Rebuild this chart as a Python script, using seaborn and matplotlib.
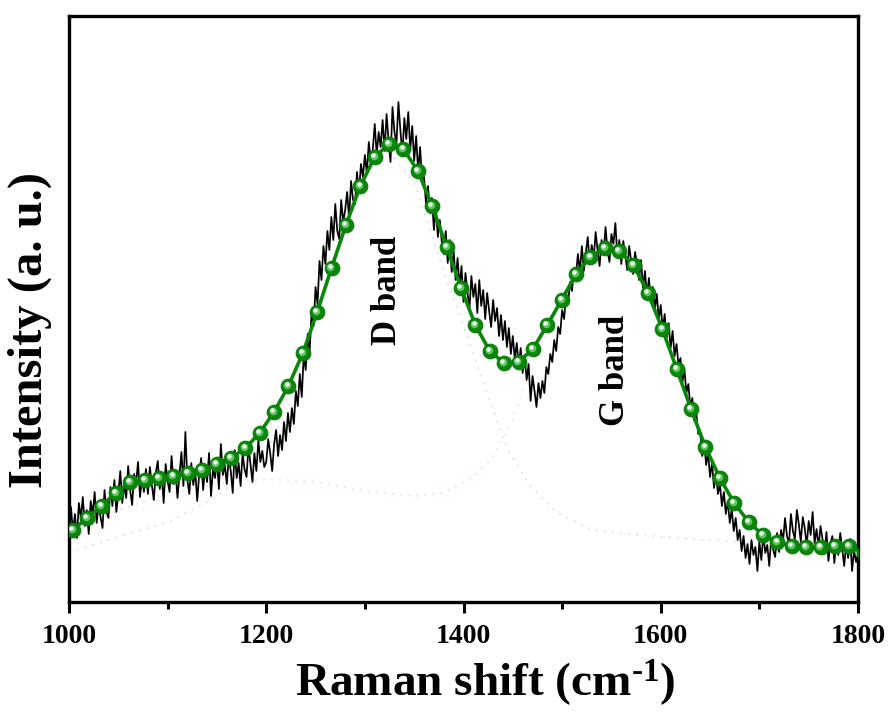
import numpy as np
import matplotlib
matplotlib.use("Agg")
import matplotlib.pyplot as plt
import matplotlib.transforms as mtransforms
import seaborn as sns

# ---------------- data ----------------
# measured Raman spectrum, 2 cm-1 steps from 1000 cm-1 (arbitrary units)
spectrum = [
    72, 95, 70, 88, 64, 99, 84, 105, 76, 92, 68, 101, 87, 110, 79, 96, 85, 74, 112, 90,
    84, 115, 96, 122, 90, 108, 131, 99, 117, 104, 136, 112, 97, 128, 119, 140, 105, 124, 110, 133,
    108, 135, 117, 102, 129, 141, 113, 126, 99, 138, 121, 110, 146, 118, 131, 104, 127, 150, 116, 170,
    122, 108, 139, 117, 131, 101, 128, 144, 112, 135, 120, 149, 106, 133, 124, 141, 113, 158, 127, 137,
    118, 145, 131, 109, 152, 124, 139, 116, 148, 133, 125, 156, 138, 120, 149, 131, 162, 140, 151, 135,
    140, 163, 149, 131, 158, 172, 146, 167, 152, 180, 161, 189, 170, 194, 178, 211, 196, 228, 205, 247,
    232, 268, 251, 290, 276, 315, 298, 341, 322, 356, 338, 371, 352, 385, 362, 398, 371, 363, 402, 380,
    392, 410, 384, 421, 402, 398, 430, 409, 438, 425, 447, 429, 460, 441, 452, 478, 447, 470, 455, 482,
    451, 488, 462, 440, 495, 470, 458, 500, 472, 447, 484, 463, 490, 452, 476, 441, 466, 430, 455, 422,
    425, 398, 416, 389, 404, 372, 395, 365, 382, 360, 348, 371, 339, 362, 330, 351, 322, 344, 315, 336,
    300, 329, 311, 292, 326, 305, 318, 289, 322, 296, 312, 283, 309, 291, 275, 302, 281, 294, 266, 287,
    262, 281, 255, 274, 248, 266, 243, 259, 236, 254, 229, 247, 222, 238, 201, 226, 211, 195, 219, 204,
    221, 209, 235, 228, 248, 240, 262, 251, 275, 268, 292, 283, 306, 298, 320, 311, 334, 327, 348, 330,
    356, 331, 349, 365, 338, 357, 344, 370, 351, 336, 362, 347, 375, 352, 340, 368, 358, 379, 345, 362,
    338, 361, 347, 332, 356, 341, 328, 350, 336, 322, 342, 314, 331, 306, 324, 299, 315, 293, 308, 282,
    297, 272, 288, 264, 279, 254, 271, 246, 258, 236, 244, 220, 233, 209, 218, 195, 204, 181, 189, 168,
    170, 146, 161, 137, 149, 125, 139, 114, 130, 108, 118, 96, 110, 88, 101, 79, 93, 71, 84, 62,
    72, 51, 66, 44, 58, 38, 62, 47, 55, 31, 60, 42, 68, 49, 57, 36, 64, 52, 45, 69,
    50, 72, 61, 84, 66, 58, 88, 71, 63, 92, 78, 60, 85, 74, 56, 81, 67, 90, 59, 73,
    55, 76, 63, 48, 70, 41, 58, 66, 39, 61, 47, 69, 53, 36, 58, 44, 63, 31, 52, 40,
    48,
]
spectrum_start = 1000
spectrum_step = 2

# cumulative fit (green markers)
fit_x = [1003.8, 1018.4, 1033.0, 1047.5, 1062.1, 1076.7, 1091.3, 1105.9, 1120.4, 1135.0,
         1149.6, 1164.2, 1178.8, 1193.3, 1207.9, 1222.5, 1237.1, 1251.7, 1266.2, 1280.8,
         1295.4, 1310.0, 1324.6, 1339.1, 1353.7, 1368.3, 1382.9, 1397.5, 1412.0, 1426.6,
         1441.2, 1455.8, 1470.4, 1484.9, 1499.5, 1514.1, 1528.7, 1543.3, 1557.8, 1572.4,
         1587.0, 1601.6, 1616.2, 1630.7, 1645.3, 1659.9, 1674.5, 1689.1, 1703.6, 1718.2,
         1732.8, 1747.4, 1762.0, 1776.5, 1791.1, 1805.7]
fit_y = [72, 84, 96, 109, 120, 122, 124, 126, 129, 132,
         138, 144, 154, 169, 190, 216, 249, 290, 334, 377,
         416, 445, 458, 453, 431, 396, 355, 314, 277, 251,
         239, 240, 253, 277, 302, 328, 345, 354, 351, 337,
         309, 273, 233, 193, 155, 124, 99, 80, 67, 60,
         56, 55, 55, 56, 56, 49]

# fitted component peaks (faint dotted)
g_comp_x = [1030, 1050, 1100, 1150, 1200, 1250, 1300, 1350, 1380, 1410, 1430, 1450, 1470,
            1500, 1530, 1550, 1570, 1600, 1630, 1660, 1690, 1720, 1760, 1800]
g_comp_y = [82, 92, 108, 118, 123, 120, 111, 106, 109, 125, 145, 182, 240,
            300, 340, 352, 340, 280, 195, 120, 80, 62, 56, 55]
d_comp_x = [1000, 1100, 1150, 1200, 1230, 1260, 1290, 1320, 1350, 1380, 1407, 1427, 1445,
            1467, 1495, 1531, 1576, 1650, 1733, 1800]
d_comp_y = [50, 80, 105, 150, 210, 320, 410, 455, 420, 330, 257, 200, 152,
            117, 89, 72, 67, 62, 57, 55]

labels = ["D band", "G band"]
label_x = [1323, 1554]
label_y = [312, 232]

# ---------------- style ----------------
sns.set_style("white")
plt.rcParams["font.family"] = ["Liberation Serif", "DejaVu Serif"]
plt.rcParams["font.weight"] = "bold"
plt.rcParams["text.color"] = "black"
plt.rcParams["axes.labelcolor"] = "black"
plt.rcParams["xtick.color"] = "black"
plt.rcParams["ytick.color"] = "black"
plt.rcParams["mathtext.fontset"] = "custom"
plt.rcParams["mathtext.rm"] = "Liberation Serif:bold"
plt.rcParams["mathtext.bf"] = "Liberation Serif:bold"
plt.rcParams["mathtext.it"] = "Liberation Serif:bold"

fig = plt.figure(figsize=(8.93, 7.13), dpi=100)
ax = fig.add_axes([69 / 893, 111 / 713, 789 / 893, 586 / 713])

spec_x = spectrum_start + spectrum_step * np.arange(len(spectrum))

sns.lineplot(x=g_comp_x, y=g_comp_y, ax=ax, color="#ffd9e0", lw=1.3,
             linestyle=(0, (1.0, 3.5)), zorder=1)
sns.lineplot(x=d_comp_x, y=d_comp_y, ax=ax, color="#dcdcff", lw=1.3,
             linestyle=(0, (1.0, 3.5)), zorder=1)
sns.lineplot(x=spec_x, y=spectrum, ax=ax, color="black", lw=1.25, zorder=2)
sns.lineplot(x=fit_x, y=fit_y, ax=ax, color="#0a870a", lw=2.6, marker="o",
             markersize=10.5, markeredgecolor="#0a7a0a", markeredgewidth=0.8, zorder=3)

hl1 = mtransforms.offset_copy(ax.transData, fig=fig, x=-0.8, y=0.8, units="points")
hl2 = mtransforms.offset_copy(ax.transData, fig=fig, x=-1.3, y=1.3, units="points")
sns.scatterplot(x=fit_x, y=fit_y, ax=ax, color="#62c462", s=30, linewidth=0,
                transform=hl1, zorder=4)
sns.scatterplot(x=fit_x, y=fit_y, ax=ax, color="#f4fff4", s=10, linewidth=0,
                transform=hl2, zorder=5)

for t, lx, ly in zip(labels, label_x, label_y):
    ax.text(lx, ly, t, rotation=90, ha="center", va="center", fontsize=25,
            fontweight="bold", color="black", zorder=6)

ax.set_xlim(1000, 1800)
ax.set_ylim(0, 586)
ax.set_xticks([1000, 1200, 1400, 1600, 1800])
ax.set_xticks([1100, 1300, 1500, 1700], minor=True)
ax.set_yticks([])
ax.tick_params(axis="x", which="major", direction="out", length=8, width=2.2,
               labelsize=20, pad=8, bottom=True, top=False)
ax.tick_params(axis="x", which="minor", direction="out", length=5, width=2.2,
               bottom=True, top=False)
for lab in ax.get_xticklabels():
    lab.set_fontweight("bold")
for sp in ax.spines.values():
    sp.set_linewidth(2.4)
    sp.set_color("black")

ax.set_xlabel(r"Raman shift (cm$^{\text{-1}}$)", fontsize=34, fontweight="bold")
ax.set_ylabel("Intensity (a. u.)", fontsize=35, fontweight="bold")
ax.xaxis.set_label_coords(0.528, -0.094)
ax.yaxis.set_label_coords(-0.022, 0.464)

fig.savefig("out.png", dpi=100)
